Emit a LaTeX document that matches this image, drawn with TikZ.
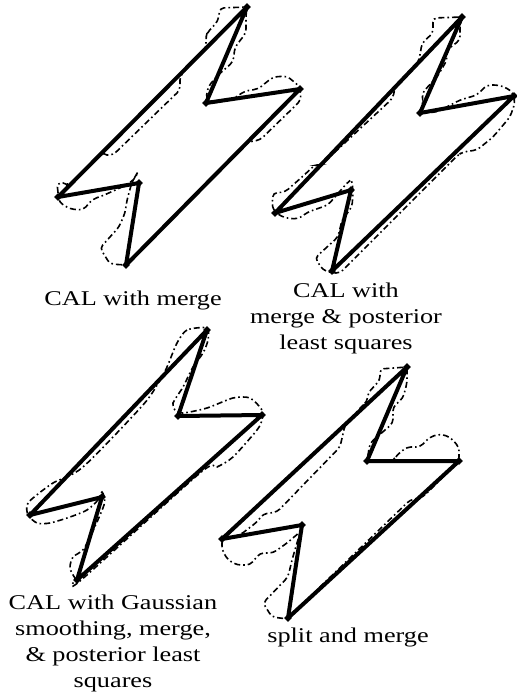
\documentclass[tikz,border=0pt]{standalone}
\usepackage{fontspec}
\setmainfont{Liberation Serif}
\usetikzlibrary{positioning, shapes.geometric}

\begin{document}
\begin{tikzpicture}[x=0.5pt, y=-0.5pt,
    vtx/.style={diamond, fill=black, inner sep=0pt, minimum size=4pt},
    poly/.style={line width=2pt, line join=round},
    contour/.style={line width=0.8pt, dash pattern=on 3pt off 1.5pt on 0.8pt off 1.5pt},
    caption/.style={font=\fontsize{10.5}{13}\selectfont, align=center, xscale=1.25}]
\useasboundingbox (0,0) rectangle (517,698);

% CAL with merge
\node[vtx] (cal-top) at (247,7) {};
\node[vtx] (cal-in) at (206,103) {};
\node[vtx] (cal-right) at (300,89) {};
\node[vtx] (cal-bot) at (126,265) {};
\node[vtx] (cal-low) at (139,183) {};
\node[vtx] (cal-left) at (58,197) {};
\draw[contour, rounded corners=2pt] (247,7) -- (246,15) -- (246,33) -- (235,47) -- (233,62) -- (217,76) -- (208,87) -- (206,99) -- (213,103) -- (233,99) -- (245,91) -- (258,89) -- (273,77) -- (287,76) -- (300,87) -- (301,100) -- (293,108) -- (260,140) -- (248,142) -- (126,265) -- (110,264) -- (100,248) -- (119,227) -- (125,213) -- (127,200) -- (132,182) -- (139,170) -- (134,180) -- (120,188) -- (102,196) -- (93,199) -- (83,210) -- (70,209) -- (59,202) -- (57,183) -- (67,183) -- (68,187) -- (103,152) -- (103,155) -- (113,155) -- (180,90) -- (180,76) -- (206,48) -- (206,37) -- (207,33) -- (218,21) -- (220,8) -- cycle;
\draw[poly] (cal-top.center) -- (cal-in.center) -- (cal-right.center) -- (cal-bot.center) -- (cal-low.center) -- (cal-left.center) -- cycle;
\node[caption] (cal-cap) at (133,300) {CAL with merge};

% CAL with merge & posterior least squares
\node[vtx] (pls-top) at (462,17) {};
\node[vtx] (pls-in) at (420,113) {};
\node[vtx] (pls-right) at (514,96) {};
\node[vtx] (pls-bot) at (332,271) {};
\node[vtx] (pls-low) at (351,190) {};
\node[vtx] (pls-left) at (275,213) {};
\draw[contour, rounded corners=2pt] (462,17) -- (433,18) -- (433,33) -- (422,43) -- (420,55) -- (418,63) -- (395,87) -- (393,98) -- (321,165) -- (315,165) -- (302,177) -- (285,192) -- (273,193) -- (272,207) -- (276,213) -- (285,218) -- (298,219) -- (308,212) -- (328,205) -- (347,183) -- (352,179) -- (353,193) -- (352,207) -- (342,220) -- (338,237) -- (315,258) -- (323,270) -- (332,273) -- (340,273) -- (458,155) -- (463,152) -- (477,150) -- (493,137) -- (510,117) -- (515,103) -- (513,93) -- (507,88) -- (498,85) -- (487,85) -- (477,95) -- (460,100) -- (437,112) -- (421,113) -- (423,100) -- (422,93) -- (437,77) -- (447,60) -- (447,50) -- (460,40) -- (460,25) -- cycle;
\draw[poly] (pls-top.center) -- (pls-in.center) -- (pls-right.center) -- (pls-bot.center) -- (pls-low.center) -- (pls-left.center) -- cycle;
\node[caption] (pls-cap) at (346,318) {CAL with\\merge \& posterior\\least squares};

% CAL with Gaussian smoothing
\node[vtx] (gau-top) at (207,330) {};
\node[vtx] (gau-in) at (178,416) {};
\node[vtx] (gau-right) at (262,415) {};
\node[vtx] (gau-bot) at (77,580) {};
\node[vtx] (gau-low) at (102,497) {};
\node[vtx] (gau-left) at (30,515) {};
\draw[contour] plot[smooth cycle, tension=0.45] coordinates {(207,328) (187,330) (177,343) (167,367) (160,380) (143,405) (83,467) (53,483) (33,498) (27,505) (28,515) (37,523) (50,523) (70,517) (87,510) (98,500) (102,492) (104,505) (85,547) (73,557) (70,568) (75,578) (80,581) (200,473) (217,467) (233,457) (257,430) (262,420) (262,410) (250,398) (233,398) (207,408) (183,413) (175,410) (173,403) (183,387) (193,367) (203,353) (208,340)};
\draw[poly] (gau-top.center) -- (gau-in.center) -- (gau-right.center) -- (gau-bot.center) -- (gau-low.center) -- (gau-left.center) -- cycle;
\node[caption] (gau-cap) at (113,643) {CAL with Gaussian\\smoothing, merge,\\\& posterior least\\squares};

% split and merge
\node[vtx] (sam-top) at (407,367) {};
\node[vtx] (sam-in) at (367,461) {};
\node[vtx] (sam-right) at (459,461) {};
\node[vtx] (sam-bot) at (288,618) {};
\node[vtx] (sam-low) at (302,525) {};
\node[vtx] (sam-left) at (222,539) {};
\draw[contour, rounded corners=2pt] (407,367) -- (380,369) -- (380,380) -- (368,393) -- (367,402) -- (363,405) -- (345,425) -- (340,447) -- (277,512) -- (263,514) -- (257,522) -- (240,535) -- (222,539) -- (222,550) -- (228,560) -- (237,565) -- (250,565) -- (260,553) -- (273,553) -- (287,543) -- (300,532) -- (302,526) -- (292,560) -- (288,577) -- (263,603) -- (272,617) -- (288,619) -- (320,587) -- (410,500) -- (423,497) -- (430,490) -- (459,461) -- (459,447) -- (450,437) -- (440,434) -- (430,437) -- (420,447) -- (407,447) -- (397,455) -- (393,461) -- (367,461) -- (370,443) -- (377,437) -- (393,423) -- (393,407) -- (403,398) -- (407,383) -- cycle;
\draw[poly] (sam-top.center) -- (sam-in.center) -- (sam-right.center) -- (sam-bot.center) -- (sam-low.center) -- (sam-left.center) -- cycle;
\node[caption] (sam-cap) at (348,637) {split and merge};
\end{tikzpicture}
\end{document}
